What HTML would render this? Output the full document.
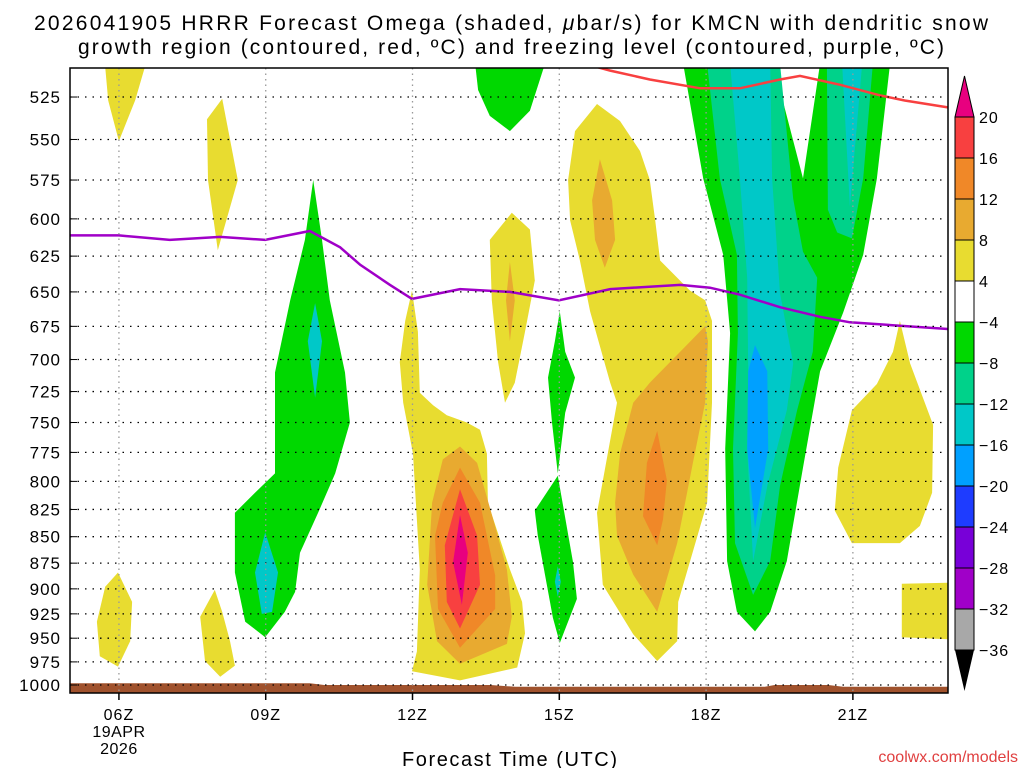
<!DOCTYPE html>
<html><head><meta charset="utf-8"><style>
body{margin:0;background:#fff}
svg{display:block;font-family:"Liberation Sans","DejaVu Sans",sans-serif}
</style></head><body>
<svg id="chart" width="1024" height="768" viewBox="0 0 1024 768" xmlns="http://www.w3.org/2000/svg">
<text x="34" y="30" font-size="21" textLength="954" lengthAdjust="spacing">2026041905 HRRR Forecast Omega (shaded, <tspan font-style="italic">μ</tspan>bar/s) for KMCN with dendritic snow</text>
<text x="78" y="54" font-size="21" textLength="866" lengthAdjust="spacing">growth region (contoured, red, ºC) and freezing level (contoured, purple, ºC)</text>
<defs><clipPath id="pc"><rect x="70" y="68" width="878" height="625"/></clipPath></defs>
<g id="plot" clip-path="url(#pc)"></g>
<g id="grid"></g>
<rect x="70" y="68" width="878" height="625" fill="none" stroke="#000" stroke-width="1.5"/>
<g id="axes"></g>
<g id="cbar"></g>
<text x="402" y="766" font-size="20" textLength="215" lengthAdjust="spacing">Forecast Time (UTC)</text>
<text x="1018" y="762" font-size="16" text-anchor="end" fill="#e04040">coolwx.com/models</text>
</svg>
<script>
const pressureTicks=[525,550,575,600,625,650,675,700,725,750,775,800,825,850,875,900,925,950,975,1000];
const hourTicks=[6,9,12,15,18,21];
const hourLabels=["06Z","09Z","12Z","15Z","18Z","21Z"];
const cbarLevels=[20,16,12,8,4,-4,-8,-12,-16,-20,-24,-28,-32,-36];
const cbarColors=["#f84040","#f08828","#e8aa30","#e8dc30","#ffffff","#00d800","#00d28a","#00c8c8","#00a0ff","#1e3cff","#7800d8","#a000c8","#a8a8a8"];
const shapeColors=["#e8dc30","#e8dc30","#e8dc30","#e8dc30","#00d800","#00c8c8","#00c8c8","#00d800","#e8dc30","#e8aa30","#e8dc30","#e8aa30","#f08828","#f84040","#e8007f","#00d800","#00d800","#00c8c8","#e8dc30","#e8aa30","#e8aa30","#f08828","#00d800","#00d28a","#00d28a","#00c8c8","#00c8c8","#00a0ff","#e8dc30","#e8dc30"];
const shapes=[
[[5.72,508],[6.53,508],[6.33,527],[6.0,551],[5.78,527]],
[[8.11,526],[8.43,575],[8.02,621],[7.82,575],[7.80,538]],
[[5.98,884],[6.27,913],[6.23,953],[5.98,980],[5.61,969],[5.55,933],[5.72,898]],
[[7.96,901],[8.11,923],[8.27,953],[8.37,979],[8.07,991],[7.76,974],[7.66,928]],
[[9.97,575],[10.15,614],[10.31,656],[10.62,710],[10.72,750],[10.42,793],[10.07,828],[9.70,865],[9.60,903],[9.39,923],[8.99,949],[8.58,933],[8.37,884],[8.37,828],[8.78,810],[9.19,793],[9.19,710],[9.50,656],[9.80,614]],
[[8.99,846],[9.25,884],[9.13,923],[8.92,925],[8.78,884]],
[[10.01,658],[10.15,686],[10.01,730],[9.86,686]],
[[13.28,506],[14.71,506],[14.40,533],[13.99,545],[13.58,536],[13.34,521]],
[[14.03,596],[14.40,607],[14.50,642],[14.30,679],[14.09,718],[13.89,734],[13.75,702],[13.62,656],[13.58,614]],
[[13.99,629],[14.09,656],[13.99,686],[13.91,656]],
[[11.99,649],[12.11,679],[12.15,726],[12.42,736],[12.70,744],[13.11,750],[13.38,756],[13.52,776],[13.54,819],[13.99,881],[14.24,913],[14.30,945],[14.14,981],[12.97,995],[11.99,985],[12.09,964],[12.15,881],[12.01,776],[11.81,734],[11.74,702],[11.85,671]],
[[12.97,770],[13.32,784],[13.65,834],[13.93,881],[14.03,928],[13.93,956],[12.97,977],[12.50,953],[12.30,896],[12.40,819],[12.62,781]],
[[12.97,788],[13.38,819],[13.69,887],[13.69,920],[12.97,960],[12.52,920],[12.46,849],[12.62,819]],
[[12.97,807],[13.32,849],[13.38,896],[12.97,940],[12.70,913],[12.66,858]],
[[12.97,830],[13.13,865],[13.01,916],[12.83,874]],
[[15.01,664],[15.12,694],[15.32,714],[15.12,742],[14.97,793],[14.85,750],[14.77,714],[14.91,686]],
[[14.97,795],[15.28,874],[15.36,910],[15.01,955],[14.87,929],[14.56,849],[14.50,826]],
[[14.97,878],[15.03,893],[14.97,908],[14.91,893]],
[[15.77,529],[16.24,539],[16.65,557],[16.85,575],[16.96,601],[17.06,628],[17.67,649],[17.98,656],[18.12,671],[18.12,734],[18.02,819],[17.43,913],[17.41,953],[17.0,974],[16.51,946],[15.89,896],[15.77,828],[16.18,734],[16.04,718],[15.63,664],[15.42,628],[15.22,601],[15.18,575],[15.32,545]],
[[15.83,562],[16.08,588],[16.14,614],[15.93,633],[15.73,614],[15.67,588]],
[[17.98,675],[18.04,686],[17.98,734],[17.73,784],[17.41,856],[17.0,923],[16.51,886],[16.18,849],[16.14,819],[16.24,776],[16.51,734],[16.85,718],[17.47,694]],
[[17.0,757],[17.20,799],[17.12,834],[17.0,858],[16.71,831],[16.79,784]],
[[17.53,506],[17.94,574],[18.35,624],[18.49,680],[18.39,772],[18.43,873],[18.63,923],[19.0,943],[19.31,923],[19.65,873],[19.98,788],[20.33,709],[20.80,665],[21.21,624],[21.49,574],[21.76,506],[20.33,506],[19.98,574],[19.37,506]],
[[18.02,506],[18.28,574],[18.63,624],[18.65,680],[18.55,772],[18.59,856],[18.96,906],[19.31,873],[19.51,804],[19.86,740],[20.18,694],[20.27,640],[19.98,622],[19.78,587],[19.51,506]],
[[20.47,506],[20.49,594],[20.68,609],[20.98,613],[21.21,574],[21.41,506]],
[[18.49,506],[18.69,574],[18.84,640],[18.86,709],[18.84,772],[18.96,873],[19.25,804],[19.65,740],[19.78,703],[19.51,651],[19.35,574],[19.31,506]],
[[20.78,506],[20.94,592],[21.19,506]],
[[19.0,689],[19.25,709],[19.27,772],[19.0,842],[18.84,772],[18.86,709]],
[[21.96,671],[22.17,703],[22.64,752],[22.62,810],[22.37,840],[21.96,856],[20.98,856],[20.63,826],[20.70,788],[20.98,740],[21.49,719],[21.82,694]],
[[22.0,895],[22.94,894],[22.94,951],[22.0,949]]
];
const dgzHours=[15.77,16.04,16.85,17.88,18.69,19.51,19.92,20.74,21.55,22.06,22.94,23.2];
const dgzPres=[508,510,515,520,520,515,513,518,524,527,531,532];
const frzHours=[5,6,7.04,8.07,8.99,9.90,10.52,10.93,11.54,11.99,12.97,13.99,14.99,16.04,17.47,18.08,18.69,19.51,20.33,20.94,22.94,23.2];
const frzPres=[611,611,614,612,614,608,619,631,645,655,648,650,656,648,645,647,652,661,668,672,677,677];
const groundHours=[5,9.9,10.2,13.6,14.1,17,19.2,19.4,20.5,20.8,23.2];
const groundPres=[998,998,1000,1000,1002,1002,1002,1000,1000,1002,1002];

const X=h=>70+(h-5)*48.93;
const Y=p=>685-912.5*Math.log(1000/p);
const NS="http://www.w3.org/2000/svg";
function mk(tag,parent,attrs){const e=document.createElementNS(NS,tag);for(const k in attrs)e.setAttribute(k,attrs[k]);parent.appendChild(e);return e;}
const plot=document.getElementById('plot'),grid=document.getElementById('grid'),axes=document.getElementById('axes'),cbar=document.getElementById('cbar');

shapes.forEach((s,i)=>{
  const e=mk('polygon',plot,{points:s.map(q=>X(q[0]).toFixed(1)+','+Y(q[1]).toFixed(1)).join(' '),fill:shapeColors[i]});
  
  
});
{
  let pts=groundHours.map((h,i)=>X(h).toFixed(1)+','+Y(groundPres[i]).toFixed(1));
  pts.push(X(23.2)+','+700,X(5)+','+700);
  const g=mk('polygon',plot,{points:pts.join(' '),fill:'#a0522d'});
  
  
}
const dl=mk('polyline',plot,{points:dgzHours.map((h,i)=>X(h).toFixed(1)+','+Y(dgzPres[i]).toFixed(1)).join(' '),fill:'none',stroke:'#f84040','stroke-width':2.5});


const fl=mk('polyline',plot,{points:frzHours.map((h,i)=>X(h).toFixed(1)+','+Y(frzPres[i]).toFixed(1)).join(' '),fill:'none',stroke:'#a000c8','stroke-width':2.5});



pressureTicks.forEach(p=>{
  const y=Y(p);
  const l=mk('line',grid,{x1:70,x2:948,y1:y,y2:y,stroke:'#000','stroke-width':1.3,'stroke-dasharray':'1.5,6'});
  
  
  const t=mk('line',axes,{x1:70,x2:77,y1:y,y2:y,stroke:'#000','stroke-width':1});
  
  
  const tx=mk('text',axes,{x:61,y:y+6,'font-size':17,'text-anchor':'end','letter-spacing':'1'});
  tx.textContent=p;
  
  
});
hourTicks.forEach((h,i)=>{
  const x=X(h);
  const l=mk('line',grid,{x1:x,x2:x,y1:68,y2:693,stroke:'#999','stroke-width':1.3,'stroke-dasharray':'1.5,4'});
  
  
  const t=mk('line',axes,{x1:x,x2:x,y1:693,y2:700,stroke:'#000','stroke-width':1.5});
  
  
  const tx=mk('text',axes,{x:x,y:720,'font-size':16,'text-anchor':'middle','letter-spacing':'1'});
  tx.textContent=hourLabels[i];
  
  
});
['19APR','2026'].forEach((s,i)=>{
  const tx=mk('text',axes,{x:X(6),y:737+i*17,'font-size':16,'text-anchor':'middle','letter-spacing':'0.5'});
  tx.textContent=s;
  
  
});
const cbTop=117,cbStep=41,cbX=955,cbW=19;
{
  const tri=mk('polygon',cbar,{points:`${cbX},${cbTop} ${cbX+cbW},${cbTop} ${cbX+cbW/2},76`,fill:'#e8007f',stroke:'#000','stroke-width':1});
  
  
  cbarColors.forEach((c,i)=>{
    const r=mk('rect',cbar,{x:cbX,y:cbTop+i*cbStep,width:cbW,height:cbStep,fill:c,stroke:'#000','stroke-width':1});
    
    
  });
  const yb=cbTop+cbarColors.length*cbStep;
  const tri2=mk('polygon',cbar,{points:`${cbX},${yb} ${cbX+cbW},${yb} ${cbX+cbW/2},691`,fill:'#000'});
  
  
  cbarLevels.forEach((v,i)=>{
    const tx=mk('text',cbar,{x:979,y:cbTop+i*cbStep+6,'font-size':16,'letter-spacing':'1'});
    tx.textContent=v<0?'−'+(-v):String(v);
    
    
  });
}
</script>
</body></html>
